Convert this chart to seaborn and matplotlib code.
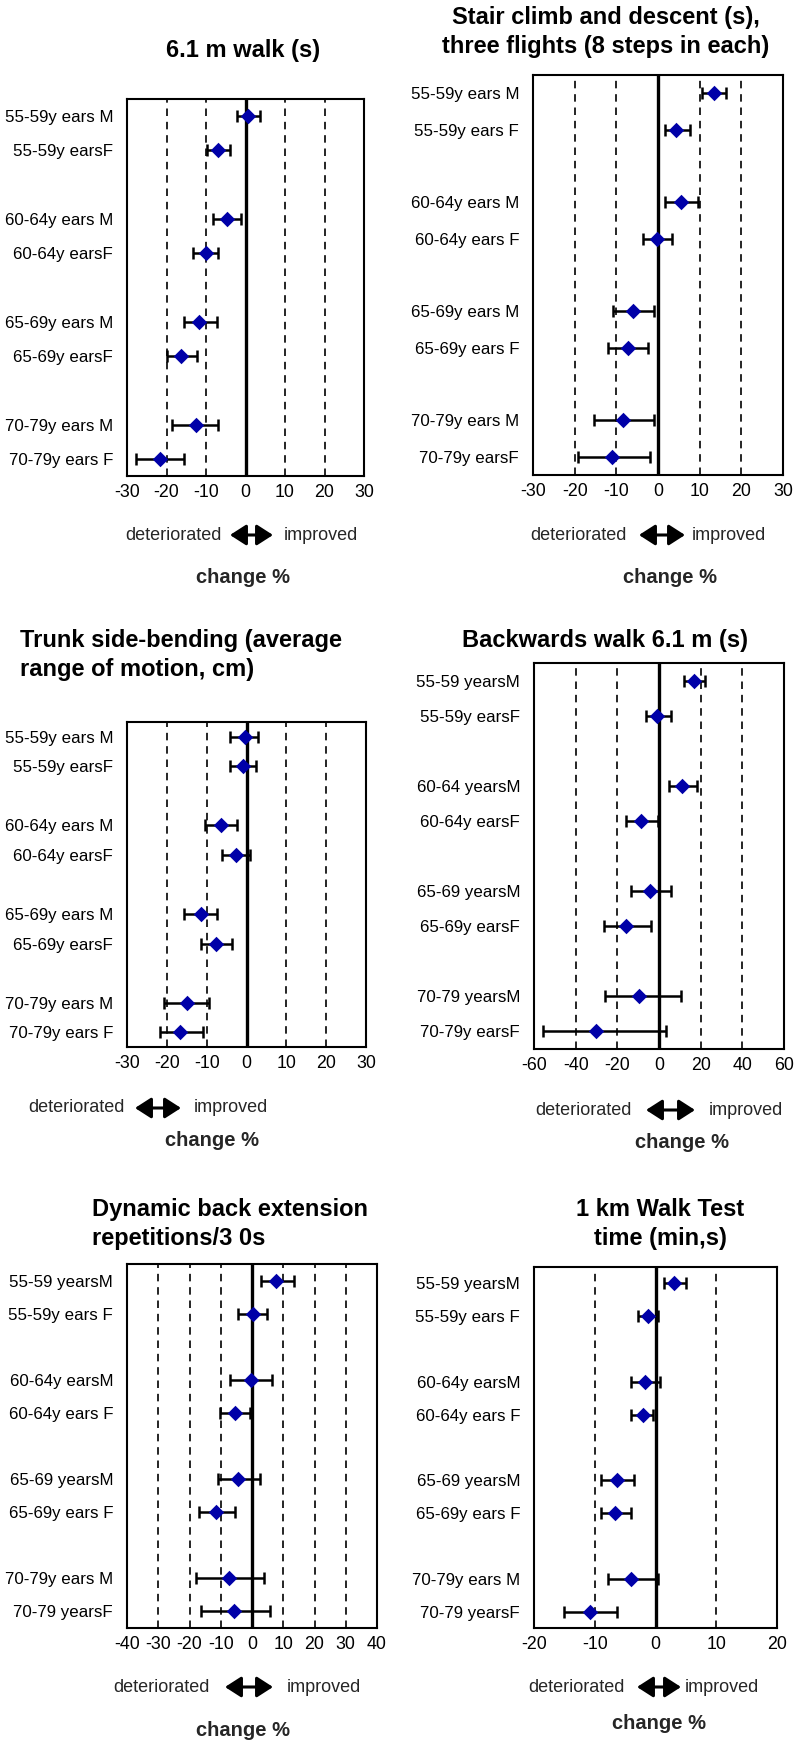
import numpy as np
import matplotlib
matplotlib.use("Agg")
import matplotlib.pyplot as plt
from matplotlib.patches import FancyArrowPatch
import seaborn as sns

# ---------------- data (change %, mean with 95% CI) ----------------
titles = [
    "6.1 m walk (s)",
    "Stair climb and descent (s),\nthree flights (8 steps in each)",
    "Trunk side-bending (average\nrange of motion, cm)",
    "Backwards walk 6.1 m (s)",
    "Dynamic back extension\nrepetitions/3 0s",
    "1 km Walk Test\ntime (min,s)",
]

labels_walk = ["55-59y ears M", "55-59y earsF", "60-64y ears M", "60-64y earsF",
               "65-69y ears M", "65-69y earsF", "70-79y ears M", "70-79y ears F"]
labels_stair = ["55-59y ears M", "55-59y ears F", "60-64y ears M", "60-64y ears F",
                "65-69y ears M", "65-69y ears F", "70-79y ears M", "70-79y earsF"]
labels_trunk = ["55-59y ears M", "55-59y earsF", "60-64y ears M", "60-64y earsF",
                "65-69y ears M", "65-69y earsF", "70-79y ears M", "70-79y ears F"]
labels_back = ["55-59 yearsM", "55-59y earsF", "60-64 yearsM", "60-64y earsF",
               "65-69 yearsM", "65-69y earsF", "70-79 yearsM", "70-79y earsF"]
labels_ext = ["55-59 yearsM", "55-59y ears F", "60-64y earsM", "60-64y ears F",
              "65-69 yearsM", "65-69y ears F", "70-79y ears M", "70-79 yearsF"]
labels_km = ["55-59 yearsM", "55-59y ears F", "60-64y earsM", "60-64y ears F",
             "65-69 yearsM", "65-69y ears F", "70-79y ears M", "70-79 yearsF"]

walk_mean = [0.7, -6.9, -4.8, -10.1, -11.8, -16.4, -12.6, -21.6]
walk_lo = [-2.1, -9.8, -8.2, -13.4, -15.6, -20.0, -18.6, -27.8]
walk_hi = [3.7, -3.9, -1.2, -6.9, -7.3, -12.3, -6.9, -15.5]

stair_mean = [13.4, 4.4, 5.6, -0.3, -6.1, -7.1, -8.4, -11.0]
stair_lo = [10.6, 1.6, 1.6, -3.6, -10.7, -11.9, -15.4, -19.3]
stair_hi = [16.3, 7.6, 9.6, 3.3, -1.0, -2.4, -1.0, -2.0]

trunk_mean = [-0.5, -0.9, -6.4, -2.6, -11.4, -7.7, -15.0, -16.6]
trunk_lo = [-4.1, -4.1, -10.3, -6.2, -15.7, -11.4, -20.6, -21.7]
trunk_hi = [2.9, 2.5, -2.4, 0.8, -7.3, -3.6, -9.3, -11.0]

back_mean = [16.6, -1.0, 10.8, -8.8, -4.1, -15.8, -9.6, -30.1]
back_lo = [11.8, -6.4, 4.8, -15.8, -13.4, -26.6, -25.8, -55.8]
back_hi = [22.0, 5.6, 18.3, -0.3, 5.6, -3.8, 10.4, 3.2]

ext_mean = [7.6, 0.2, -0.2, -5.4, -4.4, -11.4, -7.4, -5.7]
ext_lo = [2.8, -4.4, -6.9, -10.3, -10.9, -16.9, -18.0, -16.3]
ext_hi = [13.4, 4.7, 6.4, -0.7, 2.7, -5.4, 3.8, 5.7]

km_mean = [3.1, -1.2, -1.8, -2.1, -6.3, -6.6, -4.0, -10.8]
km_lo = [1.4, -2.9, -4.0, -4.0, -9.0, -9.0, -7.9, -15.1]
km_hi = [5.0, 0.4, 0.7, -0.4, -3.6, -4.0, 0.4, -6.3]

xticks_30 = [-30, -20, -10, 0, 10, 20, 30]
xticks_60 = [-60, -40, -20, 0, 20, 40, 60]
xticks_40 = [-40, -30, -20, -10, 0, 10, 20, 30, 40]
xticks_20 = [-20, -10, 0, 10, 20]

# ---------------- figure set-up ----------------
sns.set_style("white")
plt.rcParams["font.family"] = ["Liberation Sans", "DejaVu Sans"]

W, H = 795, 1742
fig = plt.figure(figsize=(W / 100, H / 100), dpi=100)


def fx(x):
    return x / W


def fy(y):
    return 1 - y / H


def add_axes_px(left, top, right, bottom):
    return fig.add_axes([fx(left), fy(bottom), (right - left) / W, (bottom - top) / H])


# per panel: axes box (px), data, ticks
panels = [
    dict(box=(127, 99, 364, 476), labels=labels_walk, mean=walk_mean, lo=walk_lo, hi=walk_hi, ticks=xticks_30),
    dict(box=(533, 75, 783, 475), labels=labels_stair, mean=stair_mean, lo=stair_lo, hi=stair_hi, ticks=xticks_30),
    dict(box=(127, 722, 366, 1047), labels=labels_trunk, mean=trunk_mean, lo=trunk_lo, hi=trunk_hi, ticks=xticks_30),
    dict(box=(534, 663, 784, 1049), labels=labels_back, mean=back_mean, lo=back_lo, hi=back_hi, ticks=xticks_60),
    dict(box=(127, 1264, 377, 1628), labels=labels_ext, mean=ext_mean, lo=ext_lo, hi=ext_hi, ticks=xticks_40),
    dict(box=(534, 1267, 777, 1628), labels=labels_km, mean=km_mean, lo=km_lo, hi=km_hi, ticks=xticks_20),
]

for p in panels:
    ax = add_axes_px(*p["box"])
    mean = np.array(p["mean"])
    lo = np.array(p["lo"])
    hi = np.array(p["hi"])
    # age groups of two rows (M, F) separated by a blank row
    pos = np.array([g * 3 + s for g in range(4) for s in range(2)])

    ticks = p["ticks"]
    for t in ticks[1:-1]:
        ax.axvline(t, color="black", lw=1.2, ls=(0, (4.5, 3.5)), zorder=1)
    ax.axvline(0, color="black", lw=2.4, zorder=2)

    ax.errorbar(mean, pos, xerr=[mean - lo, hi - mean], fmt="none", ecolor="black",
                elinewidth=1.8, capsize=4.5, capthick=1.8, zorder=3)
    sns.scatterplot(x=mean, y=pos, marker="D", s=62, color="#0000A8",
                    edgecolor="#0000A8", linewidth=0, zorder=5, ax=ax)

    ax.set_xlim(ticks[0], ticks[-1])
    ax.set_ylim(10.5, -0.5)
    ax.set_xticks(ticks)
    ax.set_xticklabels([str(t) for t in ticks], fontsize=12.8)
    ax.set_yticks(pos)
    ax.set_yticklabels(p["labels"], fontsize=12.2)
    ax.tick_params(axis="both", length=0, colors="black")
    ax.tick_params(axis="y", pad=10)
    ax.tick_params(axis="x", pad=6)
    ax.set_xlabel("")
    ax.set_ylabel("")
    for sp in ax.spines.values():
        sp.set_color("black")
        sp.set_linewidth(1.5)

# ---------------- titles ----------------
title_kw = dict(fontsize=17, fontweight="bold", color="black", linespacing=1.3)
fig.text(fx(243), fy(50), titles[0], ha="center", va="center", **title_kw)
fig.text(fx(606), fy(32), titles[1], ha="center", va="center", **title_kw)
fig.text(fx(20), fy(655), titles[2], ha="left", va="center", **title_kw)
fig.text(fx(605), fy(640), titles[3], ha="center", va="center", **title_kw)
fig.text(fx(92), fy(1224), titles[4], ha="left", va="center", **title_kw)
fig.text(fx(660), fy(1224), titles[5], ha="center", va="center", **title_kw)

# ---------------- deteriorated <-> improved + "change %" ----------------
# (deteriorated right edge, arrow start, arrow end, improved left edge, y, change-% x, change-% y)
legend_rows = [
    (222, 230, 273, 284, 535, 243, 577),
    (627, 639, 685, 692, 535, 670, 577),
    (125, 135, 181, 194, 1108, 212, 1141),
    (632, 646, 695, 709, 1110, 682, 1143),
    (210, 225, 273, 287, 1687, 243, 1730),
    (625, 637, 681, 685, 1687, 659, 1723),
]
for d_right, a0, a1, i_left, y, cx, cy in legend_rows:
    fig.text(fx(d_right), fy(y), "deteriorated", ha="right", va="center", fontsize=13)
    fig.text(fx(i_left), fy(y), "improved", ha="left", va="center", fontsize=13)
    arr = FancyArrowPatch((fx(a0), fy(y)), (fx(a1), fy(y)), transform=fig.transFigure,
                          arrowstyle="<|-|>,head_length=0.7,head_width=0.45",
                          mutation_scale=14, lw=2.2, color="black",
                          shrinkA=0, shrinkB=0)
    fig.patches.append(arr)
    fig.text(fx(cx), fy(cy), "change %", ha="center", va="center",
             fontsize=14.5, fontweight="bold")

fig.savefig("out.png", dpi=100, facecolor="white")
